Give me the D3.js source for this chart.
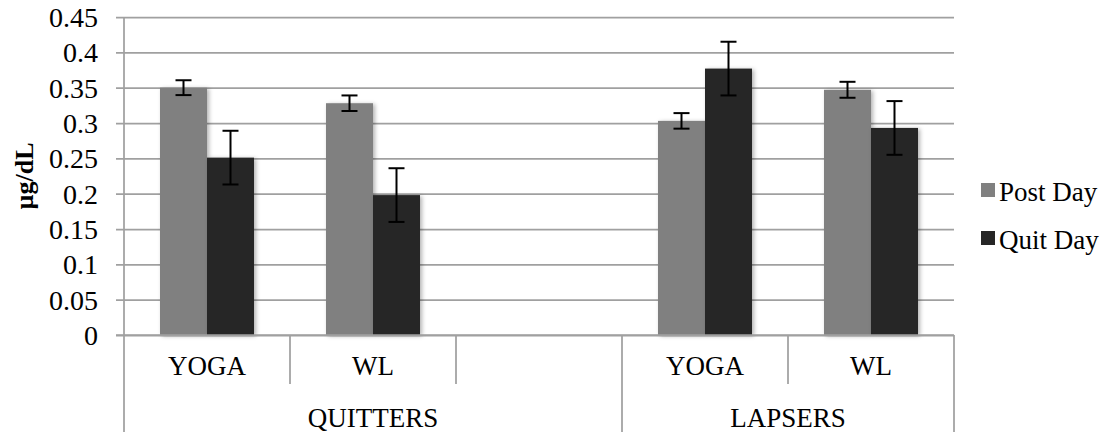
<!DOCTYPE html>
<html>
<head>
<meta charset="utf-8">
<script src="https://cdn.jsdelivr.net/npm/d3@7/dist/d3.min.js"></script>
<style>
  html, body { margin: 0; padding: 0; background: #fff; }
  svg text { font-family: "Liberation Serif", "DejaVu Serif", serif !important; }
</style>
</head>
<body>
<svg id="chart" width="1106" height="434"></svg>
<script>
// ---- data ----
const categories = ["YOGA", "WL", "", "YOGA", "WL"];
const groups = ["QUITTERS", "QUITTERS", "QUITTERS", "LAPSERS", "LAPSERS"];
const seriesNames = ["Post Day", "Quit Day"];
const postDay = [0.350, 0.328, null, 0.303, 0.347];
const quitDay = [0.251, 0.198, null, 0.377, 0.293];
const postDayErr = [0.0105, 0.011, null, 0.011, 0.0113];
const quitDayErr = [0.038, 0.038, null, 0.038, 0.038];
const yTicks = [0, 0.05, 0.1, 0.15, 0.2, 0.25, 0.3, 0.35, 0.4, 0.45];
const yTickLabels = ["0", "0.05", "0.1", "0.15", "0.2", "0.25", "0.3", "0.35", "0.4", "0.45"];
const yLabel = "µg/dL";
const colors = ["#808080", "#262626"];

(function () {
// ---- layout ----
const svg = d3.select("#chart");
const mLeft = 124, mRight = 954, mTop = 17, mBottom = 335;
const fontSize = 27;
const tickFontSize = 28;
const font = "Liberation Serif";
const gridColor = "#a0a0a0";

const x0 = d3.scaleBand().domain(d3.range(categories.length)).range([mLeft, mRight]).padding(0);
const x1 = d3.scaleBand().domain([0, 1]).range([0, x0.bandwidth()]).paddingInner(0).paddingOuter(0.766);
const y = d3.scaleLinear().domain([0, 0.45]).range([mBottom, mTop]);

const defs = svg.append("defs");
const f = defs.append("filter").attr("id", "shadow").attr("x", "-20%").attr("y", "-20%").attr("width", "150%").attr("height", "150%");
f.append("feDropShadow").attr("dx", 2).attr("dy", 1).attr("stdDeviation", 2).attr("flood-color", "#000").attr("flood-opacity", 0.3);

// gridlines + y axis
const yAxis = d3.axisLeft(y).tickValues(yTicks).tickFormat((d, i) => yTickLabels[i])
  .tickSize(-(mRight - mLeft)).tickSizeOuter(0).tickPadding(26);
const gy = svg.append("g").attr("transform", `translate(${mLeft},0)`).call(yAxis)
  .attr("font-family", font).attr("font-size", tickFontSize);
gy.select(".domain").remove();
gy.selectAll(".tick line").attr("stroke", gridColor).attr("stroke-width", 1.75).attr("x1", -8);
gy.selectAll(".tick text").attr("font-size", tickFontSize).attr("font-family", font).attr("fill", "#000").attr("dy", "0.34em");

// vertical axis line
svg.append("line").attr("x1", mLeft).attr("x2", mLeft).attr("y1", mTop).attr("y2", 432)
  .attr("stroke", gridColor).attr("stroke-width", 1.75);

// bars
const series = [postDay, quitDay];
const errs = [postDayErr, quitDayErr];
series.forEach((vals, s) => {
  svg.append("g").selectAll("rect").data(vals.map((v, i) => ({ v, i })).filter(d => d.v != null))
    .join("rect")
    .attr("x", d => x0(d.i) + x1(s))
    .attr("width", x1.bandwidth())
    .attr("y", d => y(d.v))
    .attr("height", d => y(0) - y(d.v))
    .attr("fill", colors[s])
    .attr("filter", "url(#shadow)");
});

// zero line above bars
svg.append("line").attr("x1", mLeft - 8).attr("x2", mRight).attr("y1", y(0)).attr("y2", y(0))
  .attr("stroke", gridColor).attr("stroke-width", 1.75);

// error bars
series.forEach((vals, s) => {
  const g = svg.append("g").attr("stroke", "#000").attr("stroke-width", 2);
  vals.forEach((v, i) => {
    if (v == null) return;
    const e = errs[s][i];
    const cx = x0(i) + x1(s) + x1.bandwidth() / 2;
    g.append("line").attr("x1", cx).attr("x2", cx).attr("y1", y(v + e)).attr("y2", y(v - e));
    g.append("line").attr("x1", cx - 8).attr("x2", cx + 8).attr("y1", y(v + e)).attr("y2", y(v + e));
    g.append("line").attr("x1", cx - 8).attr("x2", cx + 8).attr("y1", y(v - e)).attr("y2", y(v - e));
  });
});

// category labels + separators
const sep = svg.append("g").attr("stroke", gridColor).attr("stroke-width", 1.75);
for (let i = 1; i < categories.length; i++) {
  const xx = x0(i);
  const outer = groups[i] !== groups[i - 1];
  sep.append("line").attr("x1", xx).attr("x2", xx).attr("y1", mBottom).attr("y2", outer ? 432 : 384);
}
sep.append("line").attr("x1", mRight).attr("x2", mRight).attr("y1", mBottom).attr("y2", 432);

svg.append("g").selectAll("text").data(categories).join("text")
  .attr("x", (d, i) => x0(i) + x0.bandwidth() / 2)
  .attr("y", 375)
  .attr("text-anchor", "middle")
  .attr("font-family", font)
  .attr("font-size", fontSize)
  .text(d => d);

const groupNames = Array.from(new Set(groups));
svg.append("g").selectAll("text").data(groupNames).join("text")
  .attr("x", g => {
    const idx = groups.map((v, i) => v === g ? i : -1).filter(i => i >= 0);
    return (x0(idx[0]) + x0(idx[idx.length - 1]) + x0.bandwidth()) / 2;
  })
  .attr("y", 427)
  .attr("text-anchor", "middle")
  .attr("font-family", font)
  .attr("font-size", fontSize)
  .text(d => d);

// y label
svg.append("text")
  .attr("transform", `translate(33,${(mTop + mBottom) / 2}) rotate(-90)`)
  .attr("text-anchor", "middle")
  .attr("font-family", font)
  .attr("font-size", 26)
  .attr("font-weight", "bold")
  .text(yLabel);

// legend
const legend = svg.append("g");
seriesNames.forEach((name, s) => {
  const ly = 183 + s * 48;
  legend.append("rect").attr("x", 981).attr("y", ly).attr("width", 14).attr("height", 14).attr("fill", colors[s]);
  legend.append("text").attr("x", 999).attr("y", ly + 18).attr("font-family", font).attr("font-size", fontSize).text(name);
});
})();
</script>
</body>
</html>
